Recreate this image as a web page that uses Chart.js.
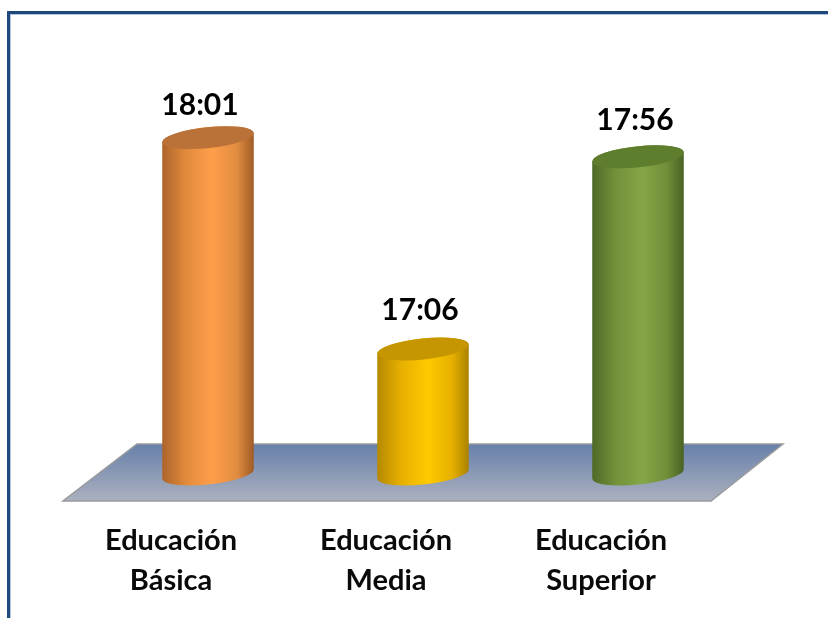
<!DOCTYPE html>
<html>
<head>
<meta charset="utf-8">
<script src="https://cdn.jsdelivr.net/npm/chart.js@4"></script>
<style>
  html, body { margin: 0; padding: 0; background: #fff; }
  #wrap { position: relative; width: 828px; height: 618px; overflow: hidden; }
  #frame {
    position: absolute; left: 7px; top: 11px; width: 840px; height: 640px;
    border-left: 3px solid #1f497d; border-top: 3px solid #1f497d;
    box-shadow: inset 1px 1px 0 #b4c4d8;
  }
  canvas { position: absolute; left: 0; top: 0; }
</style>
</head>
<body>
<div id="wrap">
  <div id="frame"></div>
  <canvas id="chart" width="828" height="618"></canvas>
</div>
<script>
const categorias = [['Educación', 'Básica'], ['Educación', 'Media'], ['Educación', 'Superior']]
// horas pasadas a minutos: 18:01, 17:06, 17:56
const minutos = [1081, 1026, 1076]

const colorLados = [
  ['#ad642b', '#e08a3c', '#ff9e4a', '#e08c40', '#a05c27'],
  ['#b58a00', '#e6ae00', '#ffca00', '#e6b000', '#ab8200'],
  ['#4f6927', '#72913a', '#85a646', '#708e39', '#4a6324']
]
const colorTapa = ['#bb7238', '#c59600', '#5e7d2d']
const etiquetaShift = [[-8, -32], [-3, -39], [-3, -37]]

const fmtHora = (m) => Math.floor(m / 60) + ':' + String(m % 60).padStart(2, '0')

const EJE_MIN = 993.5
const EJE_MAX = 1109
const RX = 46
const RY = 10.5
const TILT = -6 * Math.PI / 180
const T0 = Math.atan(-(RY / RX) * Math.tan(TILT))

const cilindros = {
  id: 'cilindros',
  beforeDatasetsDraw(chart) {
    // piso
    const { ctx, chartArea: a } = chart
    const base = a.bottom
    const g = ctx.createLinearGradient(0, base - 30, 0, base + 27)
    g.addColorStop(0, '#6880aa')
    g.addColorStop(1, '#abb1bf')
    ctx.save()
    ctx.beginPath()
    ctx.moveTo(a.left + 36.5, base - 30)
    ctx.lineTo(a.right + 37.5, base - 30)
    ctx.lineTo(a.right - 34.5, base + 27)
    ctx.lineTo(a.left - 37.5, base + 27)
    ctx.closePath()
    ctx.fillStyle = g
    ctx.fill()
    ctx.strokeStyle = '#999a9c'
    ctx.lineWidth = 1.5
    ctx.stroke()
    ctx.restore()
  },
  afterDatasetsDraw(chart) {
    const { ctx } = chart
    chart.getDatasetMeta(0).data.forEach((bar, i) => {
      const half = bar.width / 2
      const g = ctx.createLinearGradient(bar.x - half, 0, bar.x + half, 0)
      const stops = [0, 0.25, 0.55, 0.82, 1]
      stops.forEach((s, k) => g.addColorStop(s, colorLados[i][k]))
      ctx.save()
      ctx.beginPath()
      ctx.ellipse(bar.x, bar.base, RX, RY, TILT, Math.PI + T0, T0, true)
      ctx.ellipse(bar.x, bar.y, RX, RY, TILT, T0, Math.PI + T0, true)
      ctx.closePath()
      ctx.fillStyle = g
      ctx.fill()
      // tapa
      ctx.beginPath()
      ctx.ellipse(bar.x, bar.y, RX, RY, TILT, 0, Math.PI * 2)
      ctx.fillStyle = colorTapa[i]
      ctx.fill()
      // etiqueta
      ctx.fillStyle = '#000'
      ctx.font = 'bold 30px Lato'
      ctx.textAlign = 'center'
      ctx.textBaseline = 'middle'
      ctx.fillText(fmtHora(minutos[i]), bar.x + etiquetaShift[i][0], bar.y + etiquetaShift[i][1])
      ctx.restore()
    })
  }
}

new Chart(document.getElementById('chart').getContext('2d'), {
  type: 'bar',
  data: {
    labels: categorias,
    datasets: [{
      data: minutos,
      base: EJE_MIN,
      backgroundColor: 'rgba(0,0,0,0)',
      barThickness: 91
    }]
  },
  options: {
    responsive: false,
    animation: false,
    layout: { padding: { left: 100.5, right: 82.5, top: 30, bottom: 0 } },
    plugins: { legend: { display: false }, tooltip: { enabled: false } },
    scales: {
      y: { display: false, min: EJE_MIN, max: EJE_MAX },
      x: {
        afterFit(scale) { scale.height = 144 },
        grid: { display: false },
        border: { display: false },
        ticks: {
          color: '#0a0a0a',
          padding: 39,
          labelOffset: -37,
          maxRotation: 0,
          font: { family: 'Lato', weight: 'bold', size: 29, lineHeight: 1.38 }
        }
      }
    }
  },
  plugins: [cilindros]
})
</script>
</body>
</html>
